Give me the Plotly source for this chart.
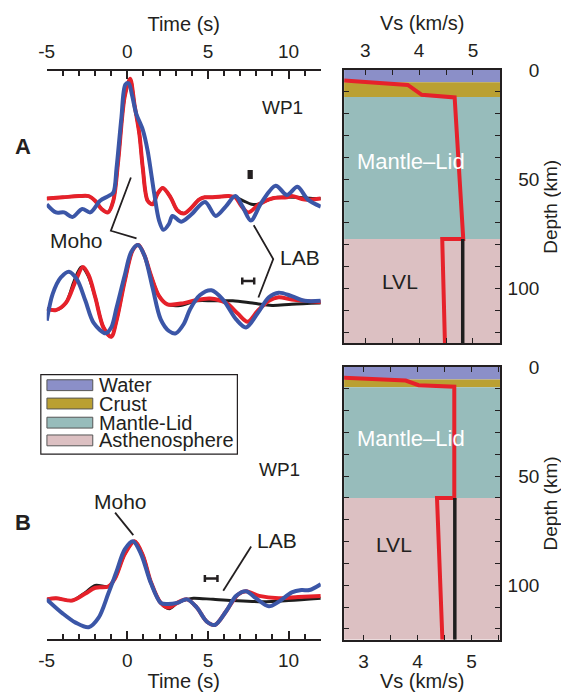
import plotly.graph_objects as go

W, H = 561, 692
def px(x):
    return x / W
def py(y):
    return 1 - y / H

FONT = "Liberation Sans, Arial, Helvetica, sans-serif"
INK = "#231f20"
RED = "#e6212a"
BLUE = "#3b56a7"
BLACK = "#1e1e1e"

# ---------------- Panel A: receiver functions (upper, noisy set) ----------------
tA_up_black = [-5.0, -4.0, -3.0, -2.4, -2.0, -1.6, -1.2, -0.87, -0.57, -0.16, 0.17, 0.45, 0.75, 0.96, 1.26,
               1.57, 1.87, 2.2, 2.68, 3.09, 3.5, 3.9, 4.45, 4.8, 5.3, 6.3, 6.7, 7.2, 7.7, 8.1, 8.6, 9.3,
               10.5, 11.5, 12.0]
aA_up_black = [-0.01, 0.0, 0.01, 0.01, -0.03, -0.10, -0.13, -0.03, 0.31, 0.87, 1.02, 0.79, 0.54, 0.25, -0.03,
               -0.06, 0.03, 0.08, 0.0, -0.11, -0.14, -0.10, -0.02, 0.0, 0.0, 0.01, 0.0, -0.03, -0.06, -0.06,
               -0.03, 0.0, 0.0, -0.01, -0.01]
tA_up_red = [-5.0, -4.0, -3.0, -2.4, -2.0, -1.6, -1.2, -0.87, -0.57, -0.16, 0.17, 0.45, 0.75, 0.96, 1.26,
             1.57, 1.87, 2.2, 2.68, 3.09, 3.5, 3.9, 4.45, 4.8, 5.3, 6.3, 6.7, 7.05, 7.5, 8.17, 8.98, 9.9,
             10.2, 11.0, 12.0]
aA_up_red = [-0.01, 0.0, 0.01, 0.01, -0.03, -0.10, -0.13, -0.03, 0.31, 0.87, 1.02, 0.79, 0.54, 0.25, -0.03,
             -0.06, 0.03, 0.08, 0.0, -0.11, -0.14, -0.10, -0.02, 0.0, 0.0, 0.01, 0.0, -0.07, -0.13, -0.06,
             -0.01, 0.0, 0.01, -0.02, -0.01]
tA_up_blue = [-5.0, -4.43, -3.92, -3.41, -2.8, -2.3, -1.69, -1.18, -0.87, -0.67, -0.37, -0.12, 0.08, 0.29,
              0.55, 0.96, 1.26, 1.67, 1.97, 2.24, 2.58, 2.8, 3.35, 3.95, 4.82, 5.48, 6.1, 6.7, 7.15, 7.66,
              8.3, 9.2, 9.9, 10.55, 11.2, 12.0]
aA_up_blue = [-0.06, -0.13, -0.13, -0.17, -0.10, -0.13, -0.03, 0.01, 0.04, 0.25, 0.68, 0.97, 0.98, 0.88,
              0.72, 0.58, 0.40, 0.03, -0.20, -0.28, -0.23, -0.16, -0.21, -0.15, -0.04, -0.16, -0.08, 0.01,
              -0.08, -0.20, -0.05, 0.10, 0.02, 0.09, -0.02, -0.08]

# ---------------- Panel A: receiver functions (lower, filtered set) ----------------
A_LOWER_OFFSET = -0.90
tA_lo_black = [-5.0, -4.43, -3.82, -3.3, -2.85, -2.45, -1.99, -1.48, -1.0, -0.67, -0.16, 0.35, 0.69, 1.06,
               1.46, 1.97, 2.48, 3.29, 4.31, 5.32, 6.54, 7.76, 8.98, 10.2, 12.0]
aA_lo_black = [-0.06, -0.07, -0.01, 0.18, 0.30, 0.23, 0.04, -0.22, -0.30, -0.16, 0.18, 0.45, 0.49, 0.40,
               0.23, 0.05, -0.02, -0.03, 0.01, 0.01, 0.01, -0.01, -0.03, -0.02, -0.01]
tA_lo_red = [-5.0, -4.43, -3.82, -3.21, -2.76, -2.4, -1.99, -1.48, -1.0, -0.67, -0.16, 0.35, 0.69, 1.06,
             1.46, 1.97, 2.48, 3.5, 4.1, 5.12, 6.14, 6.85, 7.46, 8.07, 8.78, 9.39, 10.2, 12.0]
aA_lo_red = [-0.06, -0.07, -0.01, 0.18, 0.30, 0.23, 0.04, -0.22, -0.30, -0.16, 0.18, 0.45, 0.49, 0.40,
             0.23, 0.05, -0.02, -0.01, 0.01, 0.03, -0.01, -0.10, -0.17, -0.08, 0.01, 0.04, 0.02, 0.0]
tA_lo_blue = [-5.0, -4.63, -4.13, -3.62, -3.11, -2.6, -2.09, -1.35, -1.0, -0.67, -0.16, 0.24, 0.65, 1.06,
              1.57, 2.07, 2.58, 3.0, 3.5, 3.9, 4.51, 5.22, 5.93, 6.75, 7.36, 8.07, 8.78, 9.39, 10.2, 11.0,
              12.0]
aA_lo_blue = [-0.16, 0.07, 0.21, 0.26, 0.19, 0.01, -0.18, -0.27, -0.22, -0.05, 0.23, 0.43, 0.49, 0.40,
              0.12, -0.15, -0.25, -0.27, -0.19, -0.06, 0.06, 0.10, 0.02, -0.15, -0.22, -0.10, 0.04, 0.08,
              0.05, 0.01, 0.01]

# ---------------- Panel B: receiver functions ----------------
tB_black = [-5.0, -4.43, -3.41, -2.6, -1.99, -1.18, -0.77, -0.16, 0.45, 0.96, 1.46, 2.07, 2.6, 3.09, 3.7,
            4.1, 5.32, 6.54, 8.37, 10.0, 12.0]
aB_black = [0.0, 0.01, -0.01, 0.06, 0.12, 0.11, 0.18, 0.39, 0.50, 0.38, 0.15, -0.03, -0.08, -0.03, 0.0,
            0.01, 0.0, -0.01, -0.02, -0.01, 0.01]
tB_red = [-5.0, -4.43, -3.41, -2.6, -1.99, -1.18, -0.77, -0.16, 0.45, 0.96, 1.46, 2.07, 2.58, 3.09, 3.7,
          4.31, 4.92, 5.43, 6.14, 6.85, 7.36, 8.17, 9.39, 10.6, 12.0]
aB_red = [0.0, 0.01, -0.01, 0.05, 0.10, 0.11, 0.18, 0.39, 0.50, 0.38, 0.15, -0.03, -0.07, -0.03, 0.0,
          -0.07, -0.19, -0.22, -0.10, 0.04, 0.07, 0.03, 0.01, 0.02, 0.03]
tB_blue = [-5.0, -4.02, -3.21, -2.4, -1.79, -1.18, -0.67, -0.16, 0.35, 0.85, 1.46, 2.07, 2.48, 3.09, 3.7,
           4.31, 4.92, 5.43, 6.14, 6.75, 7.36, 7.97, 8.78, 9.39, 10.2, 10.8, 11.3, 12.0]
aB_blue = [0.0, -0.12, -0.20, -0.24, -0.16, 0.05, 0.24, 0.43, 0.50, 0.39, 0.14, -0.03, -0.04, -0.03, 0.0,
           -0.07, -0.19, -0.22, -0.10, 0.03, 0.07, 0.01, -0.06, -0.02, 0.06, 0.08, 0.08, 0.13]

# LAB timing error bars (time, amplitude, half-width in s)
errA_up = (7.62, 0.195, 0.07)
errA_lo = (7.50, -0.72, 0.37)
errB = (5.20, 0.18, 0.39)

# ---------------- Velocity models ----------------
layer_names = ["Water", "Crust", "Mantle-Lid", "Asthenosphere"]
layer_colors = ["#8b8fc8", "#baa032", "#97bcbb", "#dcc0c2"]
layersA = [0, 5.5, 12.3, 77.3, 125]
layersB = [0, 5.7, 9.2, 60, 125]

vsA_red = [2.61, 3.79, 4.05, 4.66, 4.82, 4.43, 4.48]
depA_red = [4.8, 6.8, 11.3, 12.5, 77.3, 77.3, 125]
vsA_ref = [4.81, 4.81]
depA_ref = [77.3, 125]

vsB_red = [2.62, 3.78, 4.02, 4.68, 4.68, 4.36, 4.46]
depB_red = [4.9, 6.2, 8.3, 9.0, 60, 60, 125]
vsB_ref = [4.69, 4.69]
depB_ref = [60, 125]

fig = go.Figure()

def wave(t, a, color, width, xa, ya, offset=0.0):
    fig.add_trace(go.Scatter(x=t, y=[v + offset for v in a], mode="lines",
                             line=dict(color=color, width=width, shape="spline", smoothing=0.9),
                             xaxis=xa, yaxis=ya, showlegend=False, hoverinfo="skip"))

wave(tA_up_black, aA_up_black, BLACK, 3, "x", "y")
wave(tA_up_red, aA_up_red, RED, 4, "x", "y")
wave(tA_up_blue, aA_up_blue, BLUE, 4, "x", "y")
wave(tA_lo_black, aA_lo_black, BLACK, 3, "x", "y", A_LOWER_OFFSET)
wave(tA_lo_red, aA_lo_red, RED, 4, "x", "y", A_LOWER_OFFSET)
wave(tA_lo_blue, aA_lo_blue, BLUE, 4, "x", "y", A_LOWER_OFFSET)
wave(tB_black, aB_black, BLACK, 3, "x2", "y2")
wave(tB_red, aB_red, RED, 4, "x2", "y2")
wave(tB_blue, aB_blue, BLUE, 4, "x2", "y2")

def errbar(e, xa, ya, cap, thick):
    fig.add_trace(go.Scatter(x=[e[0]], y=[e[1]], mode="markers",
                             marker=dict(size=1, color="rgba(0,0,0,0)"),
                             error_x=dict(type="data", array=[e[2]], color=INK, thickness=thick, width=cap),
                             xaxis=xa, yaxis=ya, showlegend=False, hoverinfo="skip"))

errbar(errA_up, "x", "y", 4.5, 3)
errbar(errA_lo, "x", "y", 3.5, 2.5)
errbar(errB, "x2", "y2", 3.5, 2.5)

def model(vs, dep, color, width, xa, ya):
    fig.add_trace(go.Scatter(x=vs, y=dep, mode="lines", line=dict(color=color, width=width),
                             xaxis=xa, yaxis=ya, showlegend=False, hoverinfo="skip"))

model(vsA_ref, depA_ref, BLACK, 3.5, "x3", "y4")
model(vsA_red, depA_red, RED, 4, "x3", "y3")
model(vsB_ref, depB_ref, BLACK, 3.5, "x4", "y6")
model(vsB_red, depB_red, RED, 4, "x4", "y5")

shapes = []
for (xa, ya, lay) in (("x3", "y3", layersA), ("x4", "y5", layersB)):
    for i in range(4):
        shapes.append(dict(type="rect", xref=xa + " domain", yref=ya, x0=0, x1=1, y0=lay[i], y1=lay[i + 1],
                           fillcolor=layer_colors[i], line=dict(width=0), layer="below"))

# leader lines (time, amplitude)
lead_lines = [
    ("x", "y", [(0.22, 0.17), (-1.02, -0.288), (0.57, -0.353)]),
    ("x", "y", [(7.84, -0.24), (9.05, -0.531), (8.13, -0.862)]),
    ("x2", "y2", [(-0.76, 0.746), (0.37, 0.553)]),
    ("x2", "y2", [(7.68, 0.455), (5.95, 0.074)]),
]
for xa, ya, pts in lead_lines:
    path = "M " + " L ".join(f"{x},{y}" for x, y in pts)
    shapes.append(dict(type="path", xref=xa, yref=ya, path=path, line=dict(color=INK, width=1.8)))

# legend (manual)
shapes.append(dict(type="rect", xref="paper", yref="paper", x0=px(33.3), x1=px(232.7), y0=py(450.7),
                   y1=py(370), line=dict(color=INK, width=1.2), fillcolor="white"))
row_y = [380.7, 399.3, 418.7, 436.7]
annotations = []
for i, name in enumerate(layer_names):
    shapes.append(dict(type="rect", xref="paper", yref="paper", x0=px(39.5), x1=px(86),
                       y0=py(row_y[i] + 5.5), y1=py(row_y[i] - 5.5), fillcolor=layer_colors[i],
                       line=dict(color="#555555", width=1)))
    annotations.append(dict(text=name, x=px(90), y=py(row_y[i]), xref="paper", yref="paper",
                            xanchor="left", yanchor="middle", showarrow=False,
                            font=dict(family=FONT, size=20, color=INK)))

def label(text, x, y, size=21, color=INK, bold=False, angle=0):
    annotations.append(dict(text=f"<b>{text}</b>" if bold else text, x=px(x), y=py(y), xref="paper",
                            yref="paper", xanchor="center", yanchor="middle", showarrow=False,
                            textangle=angle, font=dict(family=FONT, size=size, color=color)))

label("A", 15, 139, 22, bold=True)
label("B", 15, 520, 22, bold=True)
label("WP1", 278, 99, 19)
label("WP1", 275, 466, 19)
label("Moho", 69, 234)
label("LAB", 296, 251.5)
label("Moho", 114.5, 498.5)
label("LAB", 273, 538)
label("Mantle–Lid", 409, 154, 22, color="white")
label("Mantle–Lid", 409, 435, 22, color="white")
label("LVL", 397.5, 275.5)
label("LVL", 392, 542.5)
label("Depth (km)", 550, 199.5, 19, angle=-90)
label("Depth (km)", 550, 500.5, 19, angle=-90)

tickfont = dict(family=FONT, size=19, color=INK)
titlefont = dict(family=FONT, size=20, color=INK)

def time_axis(domain_anchor, side, standoff):
    return dict(domain=[px(39.3), px(317.3)], range=[-5, 12], anchor=domain_anchor, side=side,
                showline=True, linecolor=INK, linewidth=1.5, ticks="inside", ticklen=8, tickwidth=1.5,
                tickcolor=INK, tickvals=[-5, 0, 5, 10], ticktext=["-5", "0", "5", "10"],
                minor=dict(tick0=0, dtick=1, ticks="inside", ticklen=5, tickwidth=1.5, tickcolor=INK),
                showgrid=False, zeroline=False, tickfont=tickfont, ticklabelstandoff=standoff,
                title=dict(text="Time (s)", font=titlefont, standoff=4), fixedrange=True)

def vs_axis(anchor, side, rng, standoff):
    return dict(domain=[px(341), px(499.3)], range=rng, anchor=anchor, side=side, showline=True,
                linecolor=INK, linewidth=1.5, mirror="allticks", ticks="inside", ticklen=5, tickwidth=1.2,
                tickcolor=INK, tickvals=[3, 4, 5], ticktext=["3", "4", "5"],
                minor=dict(tick0=0, dtick=0.5, ticks="inside", ticklen=5, tickwidth=1.2, tickcolor=INK),
                showgrid=False, zeroline=False, tickfont=tickfont, ticklabelstandoff=standoff,
                title=dict(text="Vs (km/s)", font=titlefont, standoff=4), fixedrange=True)

def depth_axis(anchor, dom):
    return dict(domain=dom, range=[125, 0], anchor=anchor, showline=True, linecolor=INK, linewidth=1.5,
                mirror="allticks", ticks="inside", ticklen=5, tickwidth=1.2, tickcolor=INK, tick0=0, dtick=10,
                showticklabels=False, showgrid=False, zeroline=False, fixedrange=True)

def depth_label_axis(over):
    return dict(overlaying=over, anchor="free", position=px(539), side="left", range=[125, 0],
                tickvals=[0, 50, 100], ticktext=["0", "50", "100"], ticks="", showline=False,
                showgrid=False, zeroline=False, tickfont=tickfont, fixedrange=True)

fig.update_layout(
    width=W, height=H, margin=dict(l=0, r=0, t=0, b=0),
    paper_bgcolor="white", plot_bgcolor="white", showlegend=False,
    xaxis=time_axis("y", "top", 4),
    yaxis=dict(domain=[py(340), py(62)], range=[-1.271, 1.085], visible=False, fixedrange=True),
    xaxis2=time_axis("y2", "bottom", 4),
    yaxis2=dict(domain=[py(638), py(470)], range=[-0.339, 1.085], visible=False, fixedrange=True),
    xaxis3=vs_axis("y3", "top", [2.61, 5.505], 4),
    yaxis3=depth_axis("x3", [py(338), py(61)]),
    yaxis4=depth_label_axis("y3"),
    xaxis4=vs_axis("y5", "bottom", [2.64, 5.53], 4),
    yaxis5=depth_axis("x4", [py(639), py(362.3)]),
    yaxis6=depth_label_axis("y5"),
    shapes=shapes, annotations=annotations,
)

fig.write_html("out.html")
